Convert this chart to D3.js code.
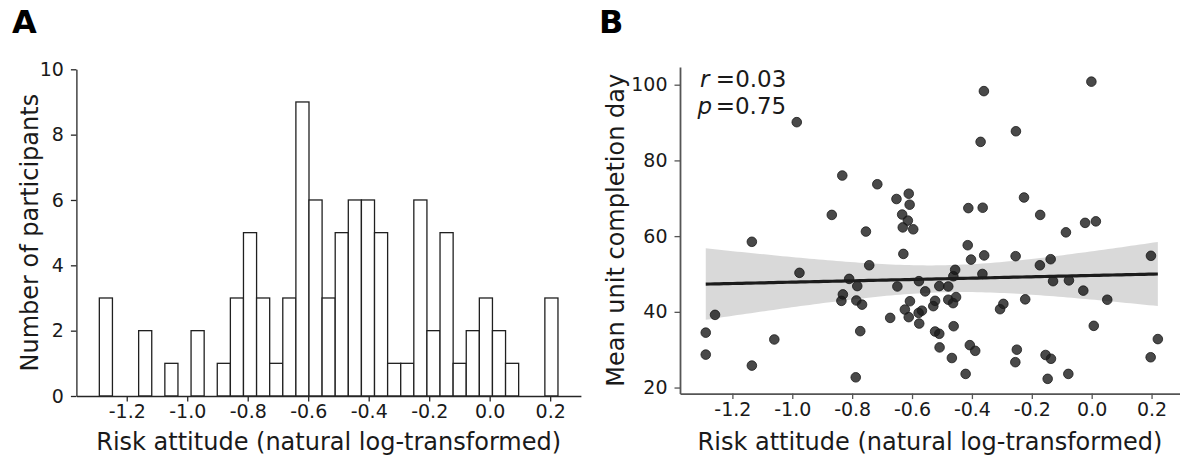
<!DOCTYPE html>
<html>
<head>
<meta charset="utf-8">
<script src="https://cdn.jsdelivr.net/npm/d3@7"></script>
<style>
  html, body { margin: 0; padding: 0; background: #fff; }
  svg { display: block; font-family: "DejaVu Sans", sans-serif; }
  .tick text { fill: #1a1a1a; }
</style>
</head>
<body>
<svg id="fig" width="1180" height="458"></svg>
<script>
// ---- Panel A: histogram of risk attitude ----
const histCounts = [3,0,0,2,0,1,0,2,0,1,3,5,3,1,3,9,6,3,5,6,6,5,1,1,6,2,5,1,2,3,2,1,0,0,3];
const histRange = [-1.2906, 0.2258];
const histXTicks = [-1.2, -1.0, -0.8, -0.6, -0.4, -0.2, 0.0, 0.2];
const histYTicks = [0, 2, 4, 6, 8, 10];

// ---- Panel B: risk attitude vs mean unit completion day ----
const riskAttitude = [
  -0.985, -0.868, -1.135, -0.360, -0.371, -0.833, -0.716, -0.652, -0.611, -0.608,
  -0.633, -0.614, -0.631, -0.596, -0.754, -0.412, -0.364, -0.001, -0.253, -0.226,
  -0.172, -0.086, -0.022,  0.014, -0.976, -1.258, -1.289, -1.289, -1.060, -1.135,
  -0.414, -0.403, -0.359, -0.629, -0.743, -0.810, -0.783, -0.831, -0.836, -0.786,
  -0.767, -0.649, -0.577, -0.556, -0.607, -0.624, -0.611, -0.673, -0.567, -0.578,
  -0.576, -0.523, -0.529, -0.509, -0.479, -0.462, -0.456, -0.365, -0.479, -0.463,
  -0.453, -0.523, -0.509, -0.461, -0.508, -0.467, -0.773, -0.788, -0.407, -0.389,
  -0.421, -0.295, -0.306, -0.254, -0.173, -0.137, -0.129, -0.076, -0.028, -0.222,
   0.052,  0.198,  0.007,  0.221,  0.197, -0.250, -0.255, -0.154, -0.136, -0.147,
  -0.078
];
const completionDay = [
  90.1, 65.6, 58.5, 98.3, 84.9, 76.0, 73.7, 69.8, 71.2, 68.3,
  65.7, 64.1, 62.3, 61.8, 61.2, 67.4, 67.5, 100.8, 87.7, 70.2,
  65.6, 61.0, 63.5, 63.9, 50.3, 39.2, 34.5, 28.7, 32.7, 25.8,
  57.6, 53.8, 54.9, 55.3, 52.3, 48.7, 46.8, 44.6, 42.9, 43.0,
  41.9, 46.7, 48.1, 45.4, 42.8, 40.6, 38.6, 38.4, 40.3, 39.7,
  36.9, 42.9, 41.5, 46.8, 46.7, 49.4, 51.1, 50.0, 43.2, 42.3,
  43.9, 34.8, 34.2, 36.2, 30.6, 27.8, 34.9, 22.7, 31.2, 29.7,
  23.6, 42.1, 40.7, 54.7, 52.3, 53.9, 48.1, 48.3, 45.6, 43.3,
  43.2, 54.8, 36.3, 32.8, 28.0, 30.0, 26.7, 28.6, 27.6, 22.3,
  23.6
];
const scatterXTicks = [-1.2, -1.0, -0.8, -0.6, -0.4, -0.2, 0.0, 0.2];
const scatterYTicks = [20, 40, 60, 80, 100];
const statR = "0.03";
const statP = "0.75";

const xLabel = "Risk attitude (natural log-transformed)";

const svg = d3.select("#fig");
const ink = "#1a1a1a";
const fmt1 = v => v.toFixed(1);

function styleAxis(g, spineColor, spineWidth) {
  g.select(".domain").attr("stroke", spineColor).attr("stroke-width", spineWidth);
  g.selectAll(".tick line").attr("stroke", spineColor).attr("stroke-width", 1.3);
  g.selectAll(".tick text").attr("font-size", 19).attr("font-family", "DejaVu Sans");
}

// ================= Panel A =================
const histWidth = (histRange[1] - histRange[0]) / histCounts.length;
const histBins = histCounts.map((c, i) => ({
  x0: histRange[0] + i * histWidth,
  x1: histRange[0] + (i + 1) * histWidth,
  count: c
}));
const padA = 0.05 * (histRange[1] - histRange[0]);
const xA = d3.scaleLinear().domain([histRange[0] - padA, histRange[1] + padA]).range([76.4, 580.9]);
const yA = d3.scaleLinear().domain([0, 10]).range([396, 69.3]);

const gA = svg.append("g");
gA.selectAll("rect.bar")
  .data(histBins.filter(b => b.count > 0))
  .join("rect")
  .attr("class", "bar")
  .attr("x", d => xA(d.x0))
  .attr("width", d => xA(d.x1) - xA(d.x0))
  .attr("y", d => yA(d.count))
  .attr("height", d => yA(0) - yA(d.count))
  .attr("fill", "#fff")
  .attr("stroke", "#202020")
  .attr("stroke-width", 1.3);

const axAx = gA.append("g")
  .attr("transform", `translate(0,${yA(0)})`)
  .call(d3.axisBottom(xA).tickValues(histXTicks).tickFormat(fmt1).tickSize(5.5).tickSizeOuter(0).tickPadding(3.5));
styleAxis(axAx, "#262626", 1.3);

const axAy = gA.append("g")
  .attr("transform", `translate(${xA.range()[0]},0)`)
  .call(d3.axisLeft(yA).tickValues(histYTicks).tickFormat(d3.format("d")).tickSize(5.5).tickSizeOuter(0).tickPadding(7));
styleAxis(axAy, "#262626", 1.3);

gA.append("text")
  .attr("x", (xA.range()[0] + xA.range()[1]) / 2).attr("y", 450)
  .attr("text-anchor", "middle").attr("font-size", 24).attr("fill", ink)
  .text(xLabel);
gA.append("text")
  .attr("transform", `translate(38,${(yA(0) + yA(10)) / 2}) rotate(-90)`)
  .attr("text-anchor", "middle").attr("font-size", 24).attr("fill", ink)
  .text("Number of participants");

// ================= Panel B =================
const xB = d3.scaleLinear().domain([-1.375, 0.302]).range([680, 1182.1]);
const yB = d3.scaleLinear().domain([18.4, 104.7]).range([393.6, 66.9]);

const pts = riskAttitude.map((x, i) => ({ x, y: completionDay[i] }));

// Ordinary least squares fit with a 95% confidence band
const n = pts.length;
const mx = d3.mean(pts, d => d.x), my = d3.mean(pts, d => d.y);
const sxx = d3.sum(pts, d => (d.x - mx) ** 2);
const sxy = d3.sum(pts, d => (d.x - mx) * (d.y - my));
const slope = sxy / sxx, intercept = my - slope * mx;
const sse = d3.sum(pts, d => (d.y - (intercept + slope * d.x)) ** 2);
const s = Math.sqrt(sse / (n - 2));
const tCrit = 1.987;
const [xmin, xmax] = d3.extent(pts, d => d.x);
const grid = d3.range(0, 101).map(i => xmin + (xmax - xmin) * i / 100);
const band = grid.map(x => {
  const yhat = intercept + slope * x;
  const se = s * Math.sqrt(1 / n + (x - mx) ** 2 / sxx);
  return { x, yhat, lo: yhat - tCrit * se, hi: yhat + tCrit * se };
});

const gB = svg.append("g");

const dotColor = "#1c1c1c";
gB.append("g").selectAll("circle")
  .data(pts)
  .join("circle")
  .attr("cx", d => xB(d.x))
  .attr("cy", d => yB(d.y))
  .attr("r", 4.8)
  .attr("fill", dotColor).attr("fill-opacity", 0.8)
  .attr("stroke", dotColor).attr("stroke-opacity", 0.8).attr("stroke-width", 1);

gB.append("path")
  .datum(band)
  .attr("d", d3.area().x(d => xB(d.x)).y0(d => yB(d.lo)).y1(d => yB(d.hi)))
  .attr("fill", "#000").attr("fill-opacity", 0.15);

gB.append("path")
  .datum(band)
  .attr("d", d3.line().x(d => xB(d.x)).y(d => yB(d.yhat)))
  .attr("fill", "none").attr("stroke", dotColor).attr("stroke-width", 3.2);

const axBx = gB.append("g")
  .attr("transform", `translate(0,${yB.range()[0]})`)
  .call(d3.axisBottom(xB).tickValues(scatterXTicks).tickFormat(fmt1).tickSize(5.5).tickSizeOuter(0).tickPadding(3.5));
styleAxis(axBx, "#555", 1.8);

const axBy = gB.append("g")
  .attr("transform", `translate(${xB.range()[0]},0)`)
  .call(d3.axisLeft(yB).tickValues(scatterYTicks).tickFormat(d3.format("d")).tickSize(5.5).tickSizeOuter(0).tickPadding(7));
styleAxis(axBy, "#555", 1.8);

gB.append("text")
  .attr("x", (xB.range()[0] + xB.range()[1]) / 2 - 1).attr("y", 450)
  .attr("text-anchor", "middle").attr("font-size", 24).attr("fill", ink)
  .text(xLabel);
gB.append("text")
  .attr("transform", `translate(624,${(yB.range()[0] + yB.range()[1]) / 2}) rotate(-90)`)
  .attr("text-anchor", "middle").attr("font-size", 24).attr("fill", ink)
  .text("Mean unit completion day");

// Correlation annotation, one line per statistic
const stats = [
  { sym: "r", val: statR, xs: 700, gap: 6.4, y: 86.9 },
  { sym: "p", val: statP, xs: 697.5, gap: 3.6, y: 113.9 }
];
stats.forEach(st => {
  const t = gB.append("text").attr("x", st.xs).attr("y", st.y)
    .attr("font-size", 23).attr("fill", ink);
  t.append("tspan").attr("font-style", "italic").text(st.sym);
  t.append("tspan").attr("dx", st.gap).text("=" + st.val);
});

// Panel letters
svg.append("text").attr("x", 12).attr("y", 33)
  .attr("font-size", 32).attr("font-weight", "bold").attr("fill", "#000").text("A");
svg.append("text").attr("x", 599).attr("y", 33)
  .attr("font-size", 32).attr("font-weight", "bold").attr("fill", "#000").text("B");
</script>
</body>
</html>
